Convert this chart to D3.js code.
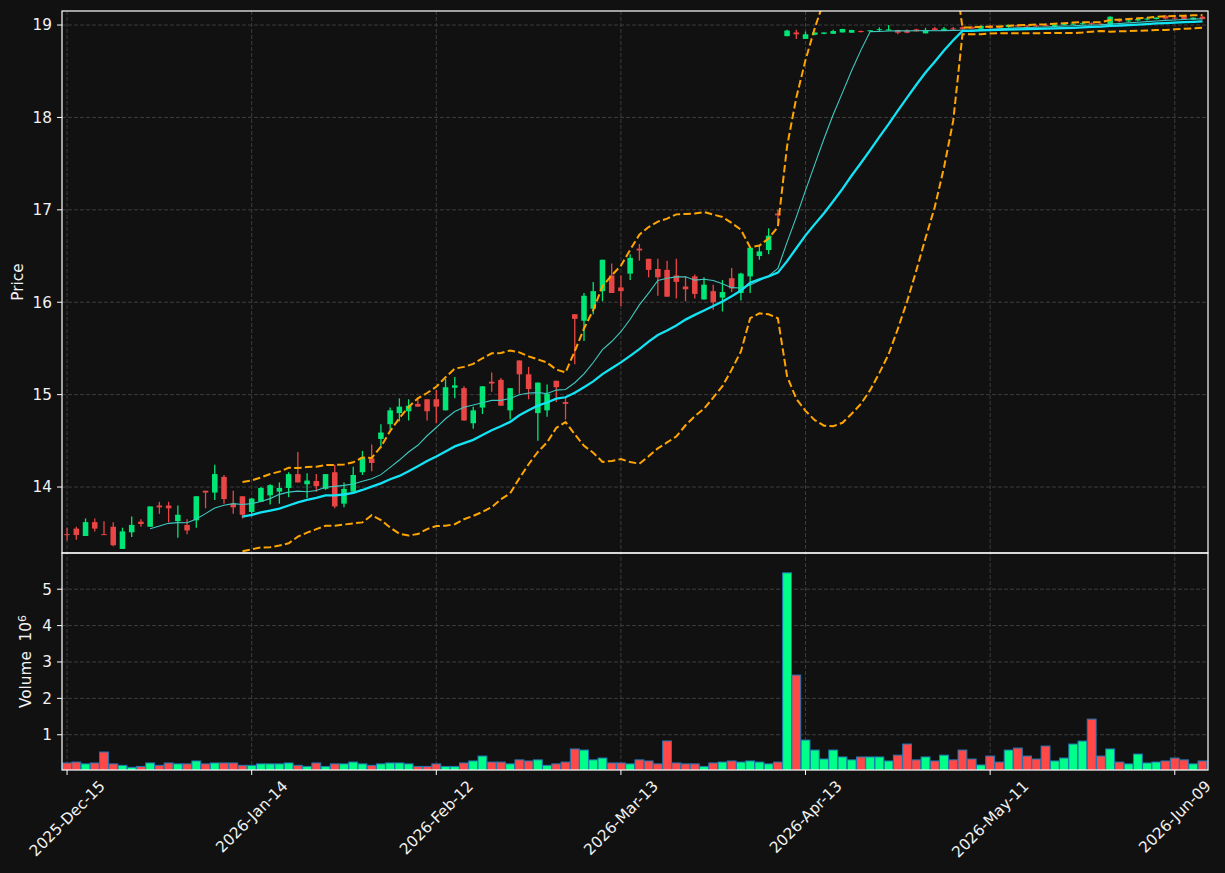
<!DOCTYPE html>
<html>
<head>
<meta charset="utf-8">
<script src="https://cdn.jsdelivr.net/npm/d3@7"></script>
<style>
  body { margin: 0; background: #111111; }
  text { font-family: "DejaVu Sans", sans-serif; fill: #f2f2f2; }
</style>
</head>
<body>
<svg id="chart" width="1225" height="873"></svg>
<script>
// x tick labels sit every 20 trading days
const tickIdx = [0, 20, 40, 60, 80, 100, 120];
const tickLabels = ["2025-Dec-15", "2026-Jan-14", "2026-Feb-12", "2026-Mar-13",
                    "2026-Apr-13", "2026-May-11", "2026-Jun-09"];
const priceTicks = [14, 15, 16, 17, 18, 19];
const volTicks = [1, 2, 3, 4, 5];

const open = [13.49, 13.55, 13.47, 13.62, 13.49, 13.57, 13.33, 13.51, 13.625, 13.57,
  13.80, 13.80, 13.63, 13.59, 13.64, 13.96, 13.94, 14.11, 13.82, 13.90,
  13.73, 13.84, 13.91, 13.95, 13.99, 14.14, 14.03, 14.065, 13.98, 14.16,
  13.82, 13.95, 14.16, 14.31, 14.52, 14.68, 14.80, 14.82, 14.90, 14.95,
  14.95, 14.83, 15.075, 15.07, 14.69, 14.86, 15.14, 15.16, 14.83, 15.37,
  15.22, 14.80, 14.83, 15.15, 14.92, 15.87, 15.80, 15.93, 16.12, 16.29,
  16.16, 16.31, 16.58, 16.47, 16.36, 16.35, 16.29, 16.17, 16.28, 16.03,
  16.12, 16.05, 16.26, 16.10, 16.28, 16.50, 16.565, 16.96, 18.88, 18.92,
  18.85, 18.895, 18.905, 18.905, 18.92, 18.917, 18.935, 18.932, 18.95, 18.94,
  18.946, 18.94, 18.953, 18.91, 18.964, 18.946, 18.964, 18.975, 18.98, 18.96,
  18.99, 18.98, 18.98, 19.0, 18.995, 18.995, 19.0, 18.99, 19.0, 19.005,
  19.01, 19.02, 19.015, 19.0, 19.06, 19.04, 19.05, 19.06, 19.065, 19.1,
  19.08, 19.1, 19.06, 19.09];
const high = [13.56, 13.57, 13.66, 13.66, 13.63, 13.62, 13.56, 13.68, 13.65, 13.79,
  13.84, 13.84, 13.80, 13.65, 13.90, 13.96, 14.24, 14.13, 13.96, 13.90,
  13.88, 14.00, 14.03, 14.05, 14.16, 14.38, 14.15, 14.14, 14.14, 14.24,
  14.05, 14.22, 14.39, 14.46, 14.68, 14.86, 14.96, 14.95, 14.97, 14.95,
  15.05, 15.17, 15.19, 15.09, 14.87, 15.09, 15.24, 15.18, 15.07, 15.37,
  15.30, 15.13, 15.11, 15.15, 14.98, 15.87, 16.10, 16.22, 16.46, 16.42,
  16.29, 16.52, 16.63, 16.47, 16.47, 16.45, 16.47, 16.28, 16.30, 16.27,
  16.19, 16.24, 16.37, 16.32, 16.59, 16.62, 16.80, 17.00, 18.95, 18.95,
  18.93, 18.92, 18.92, 18.95, 18.96, 18.95, 18.94, 18.945, 18.975, 19.0,
  18.95, 18.955, 18.96, 18.97, 18.98, 18.98, 18.98, 18.985, 18.99, 18.995,
  19.0, 18.99, 19.005, 19.01, 19.0, 19.005, 19.01, 19.01, 19.02, 19.02,
  19.03, 19.03, 19.02, 19.095, 19.07, 19.06, 19.07, 19.08, 19.085, 19.11,
  19.09, 19.11, 19.085, 19.1];
const low = [13.42, 13.43, 13.47, 13.52, 13.48, 13.36, 13.33, 13.46, 13.57, 13.57,
  13.71, 13.62, 13.45, 13.49, 13.56, 13.77, 13.86, 13.82, 13.71, 13.66,
  13.68, 13.84, 13.81, 13.82, 13.89, 14.05, 13.88, 13.95, 13.97, 13.77,
  13.78, 13.94, 14.13, 14.17, 14.42, 14.62, 14.71, 14.72, 14.87, 14.72,
  14.69, 14.83, 14.96, 14.72, 14.63, 14.79, 15.03, 14.88, 14.73, 15.01,
  14.95, 14.50, 14.76, 14.92, 14.73, 15.33, 15.58, 15.87, 16.01, 16.10,
  15.96, 16.24, 16.45, 16.27, 16.07, 16.06, 16.04, 16.01, 16.04, 16.03,
  15.92, 15.90, 16.11, 16.02, 16.10, 16.46, 16.52, 16.85, 18.88, 18.85,
  18.85, 18.89, 18.90, 18.905, 18.92, 18.917, 18.92, 18.93, 18.93, 18.94,
  18.90, 18.91, 18.93, 18.91, 18.94, 18.945, 18.946, 18.95, 18.955, 18.955,
  18.96, 18.96, 18.97, 18.98, 18.98, 18.98, 18.985, 18.985, 18.995, 19.0,
  19.005, 19.0, 19.0, 19.0, 19.03, 19.035, 19.04, 19.05, 19.06, 19.06,
  19.06, 19.06, 19.055, 19.06];
const close = [13.48, 13.48, 13.62, 13.55, 13.48, 13.37, 13.52, 13.59, 13.60, 13.79,
  13.78, 13.77, 13.70, 13.53, 13.90, 13.94, 14.14, 13.87, 13.78, 13.70,
  13.875, 13.99, 14.02, 13.99, 14.14, 14.05, 14.07, 14.01, 14.14, 13.79,
  13.98, 14.13, 14.32, 14.26, 14.59, 14.83, 14.87, 14.88, 14.87, 14.82,
  14.87, 15.08, 15.10, 14.72, 14.83, 15.09, 15.12, 14.88, 15.07, 15.22,
  15.06, 15.13, 15.01, 15.08, 14.90, 15.82, 16.07, 16.12, 16.46, 16.10,
  16.12, 16.48, 16.56, 16.35, 16.27, 16.06, 16.22, 16.14, 16.09, 16.19,
  16.00, 16.11, 16.15, 16.31, 16.59, 16.55, 16.72, 16.94, 18.94, 18.90,
  18.90, 18.92, 18.92, 18.935, 18.957, 18.946, 18.928, 18.943, 18.955, 18.953,
  18.917, 18.917, 18.932, 18.946, 18.946, 18.96, 18.953, 18.955, 18.96, 18.99,
  18.97, 18.97, 19.0, 18.985, 18.985, 18.99, 18.99, 19.005, 19.01, 19.015,
  19.02, 19.01, 19.005, 19.09, 19.04, 19.05, 19.065, 19.07, 19.08, 19.07,
  19.07, 19.065, 19.08, 19.065];
// volume in millions
const volume = [0.225, 0.25, 0.20, 0.225, 0.526, 0.20, 0.16, 0.105, 0.13, 0.225,
  0.16, 0.225, 0.20, 0.20, 0.28, 0.20, 0.225, 0.225, 0.225, 0.16,
  0.16, 0.20, 0.20, 0.20, 0.225, 0.16, 0.13, 0.225, 0.13, 0.20,
  0.20, 0.25, 0.20, 0.16, 0.20, 0.225, 0.225, 0.20, 0.13, 0.13,
  0.20, 0.13, 0.13, 0.225, 0.28, 0.415, 0.25, 0.25, 0.20, 0.31,
  0.28, 0.31, 0.16, 0.20, 0.25, 0.61, 0.58, 0.31, 0.36, 0.225,
  0.225, 0.20, 0.31, 0.28, 0.20, 0.83, 0.225, 0.20, 0.20, 0.13,
  0.225, 0.25, 0.28, 0.25, 0.28, 0.25, 0.20, 0.25, 5.45, 2.64,
  0.855, 0.58, 0.334, 0.58, 0.39, 0.31, 0.39, 0.39, 0.39, 0.28,
  0.44, 0.745, 0.31, 0.39, 0.28, 0.44, 0.31, 0.58, 0.334, 0.17,
  0.415, 0.25, 0.58, 0.635, 0.415, 0.334, 0.69, 0.28, 0.36, 0.745,
  0.827, 1.43, 0.415, 0.61, 0.25, 0.20, 0.47, 0.225, 0.25, 0.28,
  0.36, 0.31, 0.20, 0.28];

const upColor = "#00e676", downColor = "#ea4545";
const volUp = "#00ff88", volDown = "#ff4848";
const fs = 15.3;

const svg = d3.select("#chart");
const left = 62, right = 1208;
const pTop = 11, pBottom = 553, vTop = 553, vBottom = 770;

const n = close.length;
const idx = d3.range(n);

const x = d3.scaleLinear().domain([-0.55, n - 0.4]).range([left, right]);
const step = x(1) - x(0);
const y = d3.scaleLinear().domain([13.286, 19.152]).range([pBottom, pTop]);
const yv = d3.scaleLinear()
    .domain([0.3 * d3.min(volume), 1.1 * d3.max(volume)])
    .range([vBottom, vTop]);

// rolling indicators
function sma(arr, p) {
    return arr.map((_, i) => i < p - 1 ? null : d3.mean(arr.slice(i - p + 1, i + 1)));
}
function rollStd(arr, p) {
    return arr.map((_, i) => {
        if (i < p - 1) return null;
        const s = arr.slice(i - p + 1, i + 1);
        const m = d3.mean(s);
        return Math.sqrt(d3.mean(s, v => (v - m) * (v - m)));
    });
}
const ma10 = sma(close, 10);
const ma20 = sma(close, 20);
const sd20 = rollStd(close, 20);
const upper = ma20.map((m, i) => m == null ? null : m + 2 * sd20[i]);
const lower = ma20.map((m, i) => m == null ? null : m - 2 * sd20[i]);

svg.append("rect").attr("width", 1225).attr("height", 873).attr("fill", "#111111");

const defs = svg.append("defs");
defs.append("clipPath").attr("id", "clipP")
    .append("rect").attr("x", left).attr("y", pTop)
    .attr("width", right - left).attr("height", pBottom - pTop);
defs.append("clipPath").attr("id", "clipV")
    .append("rect").attr("x", left).attr("y", vTop)
    .attr("width", right - left).attr("height", vBottom - vTop);

// grids
const grid = svg.append("g")
    .attr("stroke", "#3d3d3d").attr("stroke-width", 1).attr("stroke-dasharray", "4,2");
tickIdx.forEach(t => {
    grid.append("line").attr("x1", x(t)).attr("x2", x(t)).attr("y1", pTop).attr("y2", vBottom);
});
priceTicks.forEach(t => {
    grid.append("line").attr("x1", left).attr("x2", right).attr("y1", y(t)).attr("y2", y(t));
});
volTicks.forEach(t => {
    grid.append("line").attr("x1", left).attr("x2", right).attr("y1", yv(t)).attr("y2", yv(t));
});

// candles
const candles = svg.append("g").attr("clip-path", "url(#clipP)");
const cg = candles.selectAll("g.c").data(idx).enter().append("g").attr("class", "c");
cg.append("line")
    .attr("x1", i => x(i)).attr("x2", i => x(i))
    .attr("y1", i => y(high[i])).attr("y2", i => y(low[i]))
    .attr("stroke", i => close[i] >= open[i] ? upColor : downColor)
    .attr("stroke-width", 1.3);
cg.append("rect")
    .attr("x", i => x(i) - step * 0.3)
    .attr("width", step * 0.6)
    .attr("y", i => y(Math.max(open[i], close[i])))
    .attr("height", i => Math.max(1, Math.abs(y(open[i]) - y(close[i]))))
    .attr("fill", i => close[i] >= open[i] ? upColor : downColor);

// moving averages and bands
const line = d3.line().defined(d => d[1] != null).x(d => x(d[0])).y(d => y(d[1]));
const lines = svg.append("g").attr("clip-path", "url(#clipP)").attr("fill", "none");
lines.append("path").attr("d", line(idx.map(i => [i, ma10[i]])))
    .attr("stroke", "#3fc9c2").attr("stroke-width", 1.1);
lines.append("path").attr("d", line(idx.map(i => [i, ma20[i]])))
    .attr("stroke", "#12e4f5").attr("stroke-width", 2.3);
[upper, lower].forEach(b => {
    lines.append("path").attr("d", line(idx.map(i => [i, b[i]])))
        .attr("stroke", "#ffa500").attr("stroke-width", 2)
        .attr("stroke-dasharray", "7.5,3.3");
});

// volume
const vol = svg.append("g").attr("clip-path", "url(#clipV)");
vol.selectAll("rect").data(idx).enter().append("rect")
    .attr("x", i => x(i) - step * 0.48)
    .attr("width", step * 0.96)
    .attr("y", i => yv(volume[i]))
    .attr("height", i => yv(0) - yv(volume[i]))
    .attr("fill", i => close[i] >= open[i] ? volUp : volDown)
    .attr("stroke", "#1f77b4").attr("stroke-width", 1);

// frames
const frame = svg.append("g").attr("fill", "none").attr("stroke", "#ffffff").attr("stroke-width", 1.2);
frame.append("rect").attr("x", left).attr("y", pTop).attr("width", right - left).attr("height", pBottom - pTop);
frame.append("rect").attr("x", left).attr("y", vTop).attr("width", right - left).attr("height", vBottom - vTop);

// y ticks
const axes = svg.append("g");
priceTicks.forEach(t => {
    axes.append("line").attr("x1", left - 5).attr("x2", left).attr("y1", y(t)).attr("y2", y(t))
        .attr("stroke", "#fff").attr("stroke-width", 1);
    axes.append("text").attr("x", left - 10).attr("y", y(t)).attr("dy", "0.35em")
        .attr("text-anchor", "end").attr("font-size", fs).text(t);
});
volTicks.forEach(t => {
    axes.append("line").attr("x1", left - 5).attr("x2", left).attr("y1", yv(t)).attr("y2", yv(t))
        .attr("stroke", "#fff").attr("stroke-width", 1);
    axes.append("text").attr("x", left - 10).attr("y", yv(t)).attr("dy", "0.35em")
        .attr("text-anchor", "end").attr("font-size", fs).text(t);
});

// x ticks, rotated labels centred under the tick
tickIdx.forEach((t, k) => {
    axes.append("line").attr("x1", x(t)).attr("x2", x(t)).attr("y1", vBottom).attr("y2", vBottom + 5)
        .attr("stroke", "#fff").attr("stroke-width", 1);
    const lbl = axes.append("text").attr("font-size", fs)
        .attr("text-anchor", "middle").attr("dy", "0.35em").text(tickLabels[k]);
    const len = lbl.node().getComputedTextLength();
    const h = (len + fs) * Math.SQRT1_2;
    lbl.attr("transform", `translate(${x(t)},${vBottom + 8 + h / 2}) rotate(-45)`);
});

// axis titles
axes.append("text").attr("transform", `translate(23,${(pTop + pBottom) / 2}) rotate(-90)`)
    .attr("text-anchor", "middle").attr("font-size", fs).text("Price");
const vt = axes.append("text").attr("transform", `translate(31,${(vTop + vBottom) / 2}) rotate(-90)`)
    .attr("text-anchor", "middle").attr("font-size", fs).attr("xml:space", "preserve");
vt.append("tspan").text("Volume  10");
vt.append("tspan").attr("dy", "-0.45em").attr("font-size", 11).text("6");
</script>
</body>
</html>
